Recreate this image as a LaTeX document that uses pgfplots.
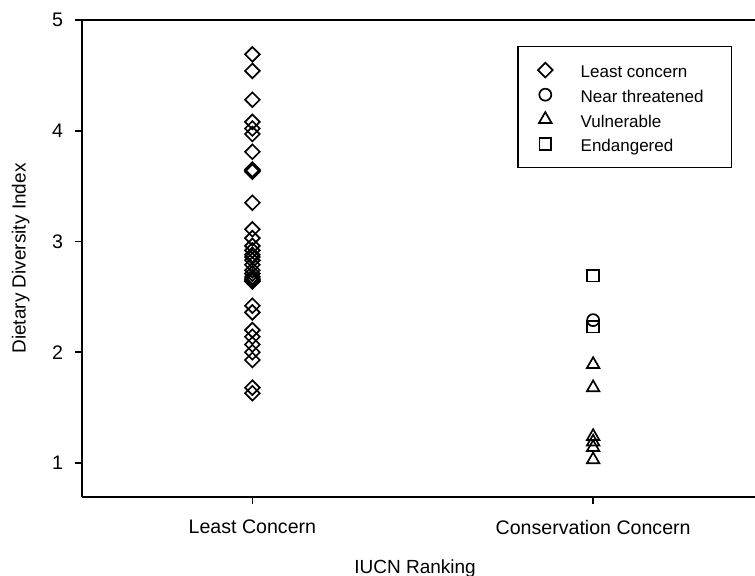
\documentclass[border=0pt]{standalone}
\usepackage{fontspec}
\setmainfont{Liberation Sans}
\usepackage{pgfplots}
\pgfplotsset{compat=1.18}
\begin{document}
\begin{tikzpicture}
\path[use as bounding box] (-41pt,-39.5pt) rectangle (336.5pt,248.5pt);
\begin{axis}[
  at={(0,0)}, anchor=south west, scale only axis,
  width=336.5pt, height=238.5pt,
  xmin=0.5, xmax=2.475, ymin=0.693, ymax=5,
  axis x line*=box, axis y line*=left,
  xtick={1,2}, xticklabels={Least Concern, Conservation Concern},
  ytick={1,2,3,4,5},
  xtick pos=left, ytick pos=left,
  tick align=outside, major tick length=3.5pt,
  axis line style={line width=0.8pt, black},
  tick style={line width=0.8pt, black},
  /pgf/number format/assume math mode=true,
  tick label style={font=\fontsize{9.8}{11}\selectfont},
  xticklabel style={yshift=-4.5pt},
  yticklabel style={xshift=-2.5pt},
  xlabel={IUCN Ranking}, ylabel={Dietary Diversity Index},
  label style={font=\fontsize{9.5}{11}\selectfont},
  xlabel style={at={(axis description cs:0.495,-0.150)}, anchor=center},
  ylabel style={at={(axis description cs:-0.091,0.5)}, anchor=center},
  legend style={at={(axis description cs:0.966,0.945)}, anchor=north east,
    draw=black, line width=0.6pt, font=\fontsize{8.5}{10}\selectfont,
    inner xsep=10pt, inner ysep=6.5pt, row sep=2pt, column sep=13pt,
    nodes={inner sep=1pt, text height=8pt, text depth=0.3pt}},
  legend cell align=left,
]
\addplot[only marks, mark=square, mark size=2.6pt, mark options={rotate=45, line width=0.85pt, black}] coordinates {
(1,4.69) (1,4.54) (1,4.28) (1,4.08) (1,4.02) (1,3.97) (1,3.81) (1,3.65) (1,3.64) (1,3.63)
(1,3.35) (1,3.11) (1,3.03) (1,2.96) (1,2.92) (1,2.88) (1,2.86) (1,2.83) (1,2.79) (1,2.74)
(1,2.71) (1,2.68) (1,2.66) (1,2.65) (1,2.64) (1,2.42) (1,2.36) (1,2.20) (1,2.14) (1,2.07)
(1,2.00) (1,1.93) (1,1.68) (1,1.63)
};
\addlegendentry{Least concern}
\addplot[only marks, mark=o, mark size=3pt, mark options={line width=0.85pt, black}] coordinates {
(2,2.29)
};
\addlegendentry{Near threatened\hspace*{3pt}}
\addplot[only marks, mark=triangle, mark size=3.6pt, mark options={line width=0.85pt, black}] coordinates {
(2,1.89) (2,1.68) (2,1.24) (2,1.19) (2,1.14) (2,1.03)
};
\addlegendentry{Vulnerable}
\addplot[only marks, mark=square, mark size=2.9pt, mark options={line width=0.85pt, black}] coordinates {
(2,2.69) (2,2.23)
};
\addlegendentry{Endangered}
\end{axis}
\end{tikzpicture}
\end{document}
